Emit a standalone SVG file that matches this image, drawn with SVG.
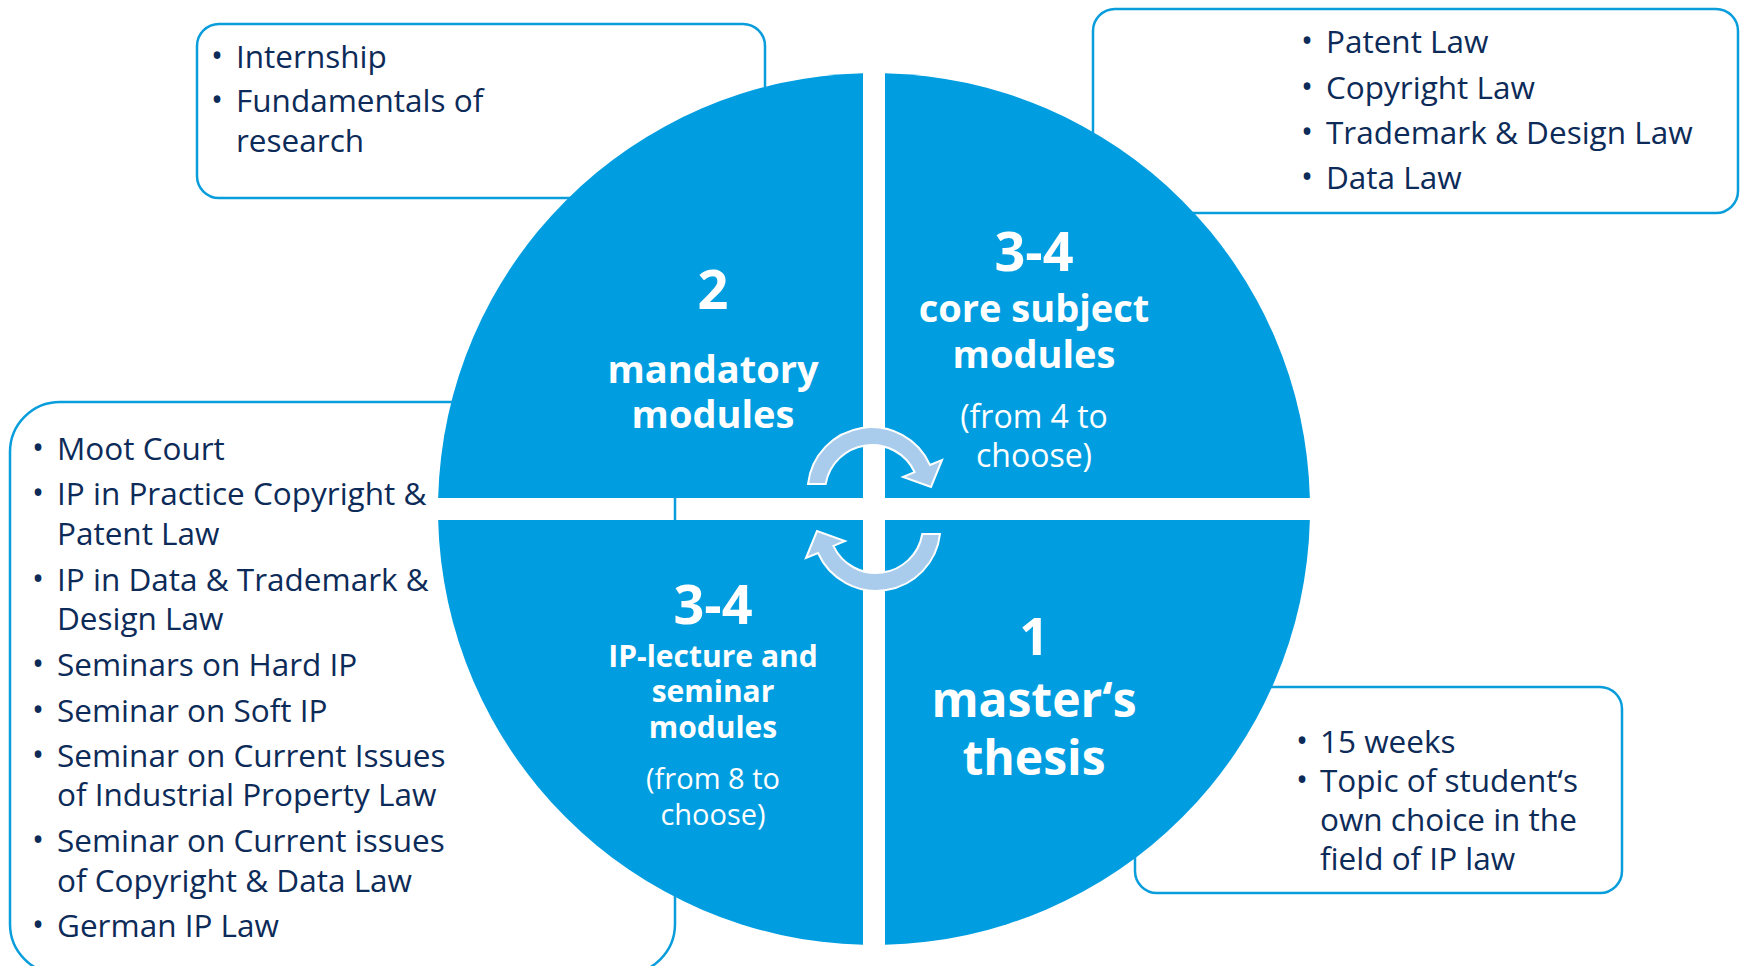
<svg xmlns="http://www.w3.org/2000/svg" width="1742" height="966" viewBox="0 0 1742 966">
<style>
.box{fill:#fff;stroke:#0A9DDC;stroke-width:2.5}
.q{fill:#009EE0}
.li{font-family:"Open Sans","Liberation Sans",sans-serif;font-size:31.5px;fill:#0D2B58}
.bu{font-family:"Open Sans","Liberation Sans",sans-serif;font-size:32px;fill:#0D2B58}
.big{font-family:"Open Sans","Liberation Sans",sans-serif;font-weight:700;fill:#fff;text-anchor:middle}
.reg{font-family:"Open Sans","Liberation Sans",sans-serif;fill:#fff;text-anchor:middle}
.arr{fill:#AACCEC;stroke:#fff;stroke-width:2;stroke-linejoin:miter}
</style>
<rect width="1742" height="966" fill="#fff"/>
<g id="box-mandatory">
<rect class="box" x="197" y="24" width="568" height="174" rx="22"/>
<text class="bu" x="211" y="67">•</text><text class="li" x="236" y="68">Internship</text>
<text class="bu" x="211" y="111">•</text><text class="li" x="236" y="112">Fundamentals of</text>
<text class="li" x="236" y="152">research</text>
</g>
<g id="box-core">
<rect class="box" x="1093" y="9" width="645" height="204" rx="22"/>
<text class="bu" x="1301" y="52">•</text><text class="li" x="1326" y="53">Patent Law</text>
<text class="bu" x="1301" y="98">•</text><text class="li" x="1326" y="99">Copyright Law</text>
<text class="bu" x="1301" y="143">•</text><text class="li" x="1326" y="144">Trademark &amp; Design Law</text>
<text class="bu" x="1301" y="188">•</text><text class="li" x="1326" y="189">Data Law</text>
</g>
<g id="box-seminar">
<rect class="box" x="10" y="402" width="665" height="572" rx="50"/>
<text class="bu" x="32" y="459">•</text><text class="li" x="57" y="460">Moot Court</text>
<text class="bu" x="32" y="504">•</text><text class="li" x="57" y="505">IP in Practice Copyright &amp;</text>
<text class="li" x="57" y="545">Patent Law</text>
<text class="bu" x="32" y="590">•</text><text class="li" x="57" y="591">IP in Data &amp; Trademark &amp;</text>
<text class="li" x="57" y="630">Design Law</text>
<text class="bu" x="32" y="675">•</text><text class="li" x="57" y="676">Seminars on Hard IP</text>
<text class="bu" x="32" y="721">•</text><text class="li" x="57" y="722">Seminar on Soft IP</text>
<text class="bu" x="32" y="766">•</text><text class="li" x="57" y="767">Seminar on Current Issues</text>
<text class="li" x="57" y="806">of Industrial Property Law</text>
<text class="bu" x="32" y="851">•</text><text class="li" x="57" y="852">Seminar on Current issues</text>
<text class="li" x="57" y="892">of Copyright &amp; Data Law</text>
<text class="bu" x="32" y="936">•</text><text class="li" x="57" y="937">German IP Law</text>
</g>
<g id="box-thesis">
<rect class="box" x="1135" y="687" width="487" height="206" rx="22"/>
<text class="bu" x="1296" y="752">•</text><text class="li" x="1320" y="753">15 weeks</text>
<text class="bu" x="1296" y="791">•</text><text class="li" x="1320" y="792">Topic of student‘s</text>
<text class="li" x="1320" y="831">own choice in the</text>
<text class="li" x="1320" y="870">field of IP law</text>
</g>
<g id="q-mandatory">
<path class="q" d="M863,498 V73.14 A436,436 0 0,0 438.14,498 Z"/>
<text class="big" x="713" y="309" font-size="54">2</text>
<text class="big" x="713" y="383" font-size="38">mandatory</text>
<text class="big" x="713" y="428" font-size="38">modules</text>
</g>
<g id="q-core">
<path class="q" d="M885,498 V73.14 A436,436 0 0,1 1309.86,498 Z"/>
<text class="big" x="1034" y="271" font-size="54">3-4</text>
<text class="big" x="1034" y="322" font-size="38">core subject</text>
<text class="big" x="1034" y="368" font-size="38">modules</text>
<text class="reg" x="1034" y="428" font-size="32">(from 4 to</text>
<text class="reg" x="1034" y="467" font-size="32">choose)</text>
</g>
<g id="q-seminar">
<path class="q" d="M863,520 V944.86 A436,436 0 0,1 438.14,520 Z"/>
<text class="big" x="713" y="624" font-size="54">3-4</text>
<text class="big" x="713" y="667" font-size="30">IP-lecture and</text>
<text class="big" x="713" y="702" font-size="30">seminar</text>
<text class="big" x="713" y="738" font-size="30">modules</text>
<text class="reg" x="713" y="789" font-size="29">(from 8 to</text>
<text class="reg" x="713" y="825" font-size="29">choose)</text>
</g>
<g id="q-thesis">
<path class="q" d="M885,520 V944.86 A436,436 0 0,0 1309.86,520 Z"/>
<text class="big" x="1034" y="655" font-size="52">1</text>
<text class="big" x="1034" y="717" font-size="48">master‘s</text>
<text class="big" x="1034" y="775" font-size="48">thesis</text>
</g>
<g id="connectors">
<path id="arrow-top" class="arr" d="M808,484 A64,64 0 0,1 930,465 L942,460 L931,487 L903,477 L914.6,472.1 A47,47 0 0,0 825.7,484 Z"/>
<path id="arrow-bottom" class="arr" transform="rotate(180 874 509)" d="M808,484 A64,64 0 0,1 930,465 L942,460 L931,487 L903,477 L914.6,472.1 A47,47 0 0,0 825.7,484 Z"/>
</g>
</svg>
